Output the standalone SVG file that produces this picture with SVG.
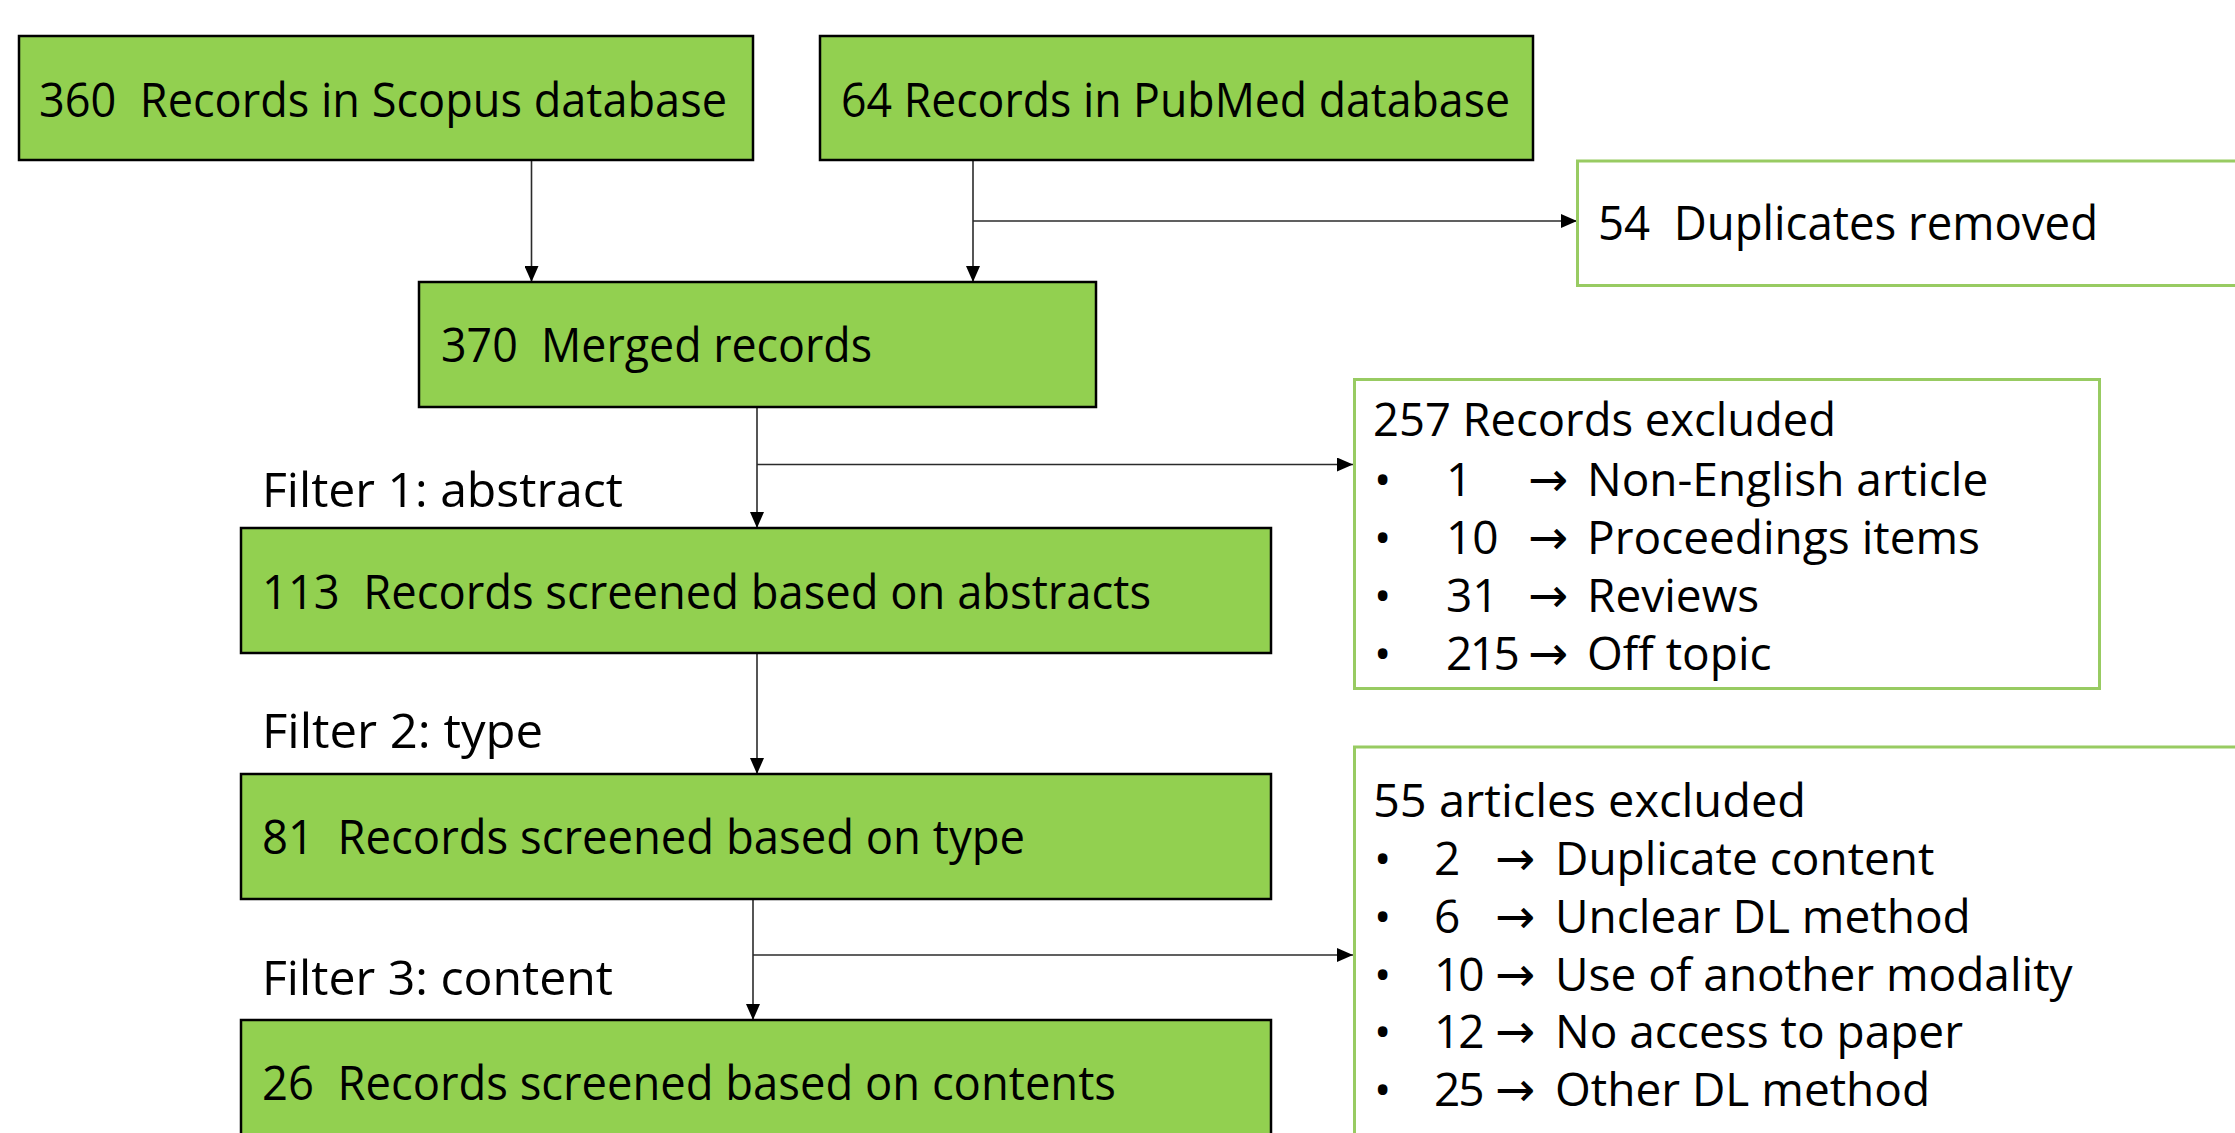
<svg xmlns="http://www.w3.org/2000/svg" width="2235" height="1133" viewBox="0 0 2235 1133">
<defs>
<style>
.box{fill:#92D050;stroke:#000;stroke-width:2.5}
.gbox{fill:#fff;stroke:#98CB62;stroke-width:3}
text{font-family:"Open Sans","Noto Sans","DejaVu Sans",sans-serif;font-size:48px;fill:#000}
.li{font-size:46px}
.ar{font-family:"DejaVu Sans","Open Sans",sans-serif;font-size:48px}
.con{fill:none;stroke:#2b2b2b;stroke-width:1.6}
</style>
<marker id="ah" markerUnits="userSpaceOnUse" markerWidth="16" markerHeight="14" viewBox="0 0 16 14" refX="16" refY="7" orient="auto">
<path d="M0,0 L16,7 L0,14 Z" fill="#000"/>
</marker>
</defs>
<rect width="2235" height="1133" fill="#fff"/>
<g id="connectors">
<line class="con" x1="531.5" y1="161" x2="531.5" y2="282" marker-end="url(#ah)"/>
<line class="con" x1="973" y1="161" x2="973" y2="282" marker-end="url(#ah)"/>
<line class="con" x1="973" y1="221" x2="1577" y2="221" marker-end="url(#ah)"/>
<line class="con" x1="757" y1="407" x2="757" y2="528" marker-end="url(#ah)"/>
<line class="con" x1="757" y1="464.5" x2="1353" y2="464.5" marker-end="url(#ah)"/>
<line class="con" x1="757" y1="653" x2="757" y2="774" marker-end="url(#ah)"/>
<line class="con" x1="753" y1="899" x2="753" y2="1020" marker-end="url(#ah)"/>
<line class="con" x1="753" y1="955" x2="1353" y2="955" marker-end="url(#ah)"/>
</g>
<g id="scopus">
<rect class="box" x="19" y="36" width="734" height="124"/>
<text x="39" y="117" textLength="688" lengthAdjust="spacingAndGlyphs" xml:space="preserve">360  Records in Scopus database</text>
</g>
<g id="pubmed">
<rect class="box" x="820" y="36" width="713" height="124"/>
<text x="841" y="117" textLength="669" lengthAdjust="spacingAndGlyphs">64 Records in PubMed database</text>
</g>
<g id="duplicates">
<rect class="gbox" x="1577.5" y="161" width="700" height="124.5"/>
<text x="1598" y="240" textLength="500" lengthAdjust="spacingAndGlyphs" xml:space="preserve">54  Duplicates removed</text>
</g>
<g id="merged">
<rect class="box" x="419" y="282" width="677" height="125"/>
<text x="441" y="362" textLength="431" lengthAdjust="spacingAndGlyphs" xml:space="preserve">370  Merged records</text>
</g>
<g id="filter1">
<text x="262" y="507" textLength="361" lengthAdjust="spacingAndGlyphs">Filter 1: abstract</text>
</g>
<g id="abstracts">
<rect class="box" x="241" y="528" width="1030" height="125"/>
<text x="262" y="609" textLength="889" lengthAdjust="spacingAndGlyphs" xml:space="preserve">113  Records screened based on abstracts</text>
</g>
<g id="excluded257">
<rect class="gbox" x="1354.5" y="379.5" width="745" height="309"/>
<text class="li" x="1373" y="436" textLength="463" lengthAdjust="spacingAndGlyphs">257 Records excluded</text>
<text class="li" y="495.5"><tspan x="1374">•</tspan><tspan x="1446">1</tspan><tspan class="ar" x="1528">→</tspan><tspan x="1587">Non-English article</tspan></text>
<text class="li" y="553.5"><tspan x="1374">•</tspan><tspan x="1446">10</tspan><tspan class="ar" x="1528">→</tspan><tspan x="1587">Proceedings items</tspan></text>
<text class="li" y="611.5"><tspan x="1374">•</tspan><tspan x="1446">31</tspan><tspan class="ar" x="1528">→</tspan><tspan x="1587">Reviews</tspan></text>
<text class="li" y="669.5"><tspan x="1374">•</tspan><tspan x="1446" letter-spacing="-2.5">215</tspan><tspan class="ar" x="1528">→</tspan><tspan x="1587">Off topic</tspan></text>
</g>
<g id="filter2">
<text x="262" y="748" textLength="281" lengthAdjust="spacingAndGlyphs">Filter 2: type</text>
</g>
<g id="type">
<rect class="box" x="241" y="774" width="1030" height="125"/>
<text x="262" y="853.5" textLength="763" lengthAdjust="spacingAndGlyphs" xml:space="preserve">81  Records screened based on type</text>
</g>
<g id="filter3">
<text x="262" y="995" textLength="351" lengthAdjust="spacingAndGlyphs">Filter 3: content</text>
</g>
<g id="contents">
<rect class="box" x="241" y="1020" width="1030" height="140"/>
<text x="262" y="1100" textLength="854" lengthAdjust="spacingAndGlyphs" xml:space="preserve">26  Records screened based on contents</text>
</g>
<g id="excluded55">
<rect class="gbox" x="1354.5" y="747" width="900" height="420"/>
<text class="li" x="1373" y="817" textLength="433" lengthAdjust="spacingAndGlyphs">55 articles excluded</text>
<text class="li" y="875"><tspan x="1374">•</tspan><tspan x="1434">2</tspan><tspan class="ar" x="1495">→</tspan><tspan x="1555">Duplicate content</tspan></text>
<text class="li" y="933"><tspan x="1374">•</tspan><tspan x="1434">6</tspan><tspan class="ar" x="1495">→</tspan><tspan x="1555">Unclear DL method</tspan></text>
<text class="li" y="990.5"><tspan x="1374">•</tspan><tspan x="1434" letter-spacing="-2">10</tspan><tspan class="ar" x="1495">→</tspan><tspan x="1555">Use of another modality</tspan></text>
<text class="li" y="1048"><tspan x="1374">•</tspan><tspan x="1434" letter-spacing="-2">12</tspan><tspan class="ar" x="1495">→</tspan><tspan x="1555">No access to paper</tspan></text>
<text class="li" y="1105.5"><tspan x="1374">•</tspan><tspan x="1434" letter-spacing="-2">25</tspan><tspan class="ar" x="1495">→</tspan><tspan x="1555">Other DL method</tspan></text>
</g>
</svg>
